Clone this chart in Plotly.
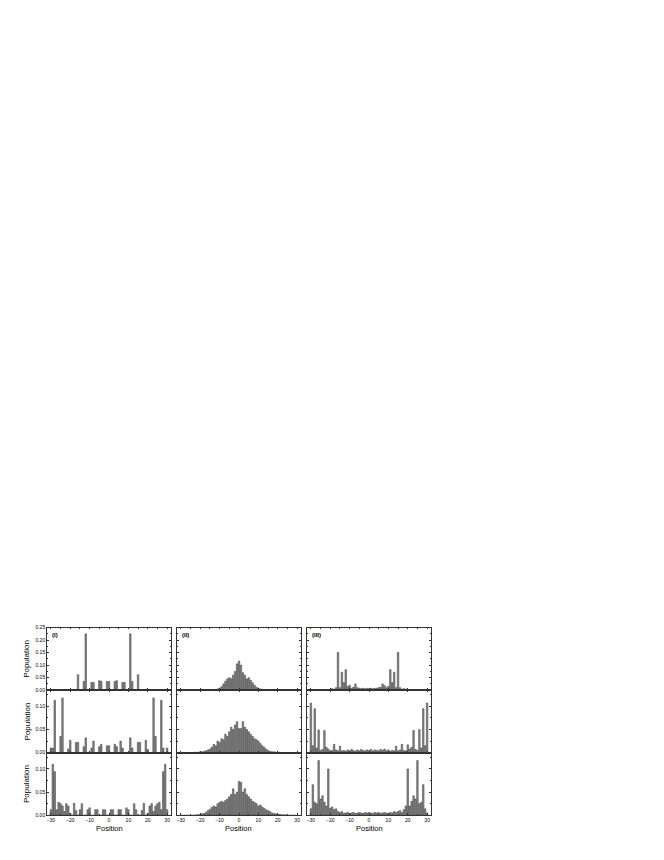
import plotly.graph_objects as go

# ---------------- data ----------------
positions = list(range(-30, 31))
x_tick_vals = [-30, -20, -10, 0, 10, 20, 30]
y_ticks_top = [0.00, 0.05, 0.10, 0.15, 0.20, 0.25]
y_ticks_low = [0.00, 0.05, 0.10]
panel_labels = ["(I)", "(II)", "(III)"]
y_title = "Population"
x_title = "Position"

# Column (I)
pop_I_top = [0, 0, 0, 0, 0, 0, 0, 0, 0, 0,
             0.002, 0, 0, 0, 0.062, 0, 0, 0.035, 0.225, 0,
             0, 0.031, 0.031, 0, 0, 0.038, 0.036, 0, 0, 0.035,
             0.035, 0, 0, 0.035, 0.038, 0, 0, 0.031, 0.031, 0,
             0, 0.225, 0.035, 0, 0, 0.062, 0, 0, 0, 0.002,
             0, 0, 0, 0, 0, 0, 0, 0, 0, 0,
             0]
pop_I_mid = [0.010, 0.010, 0.113, 0, 0, 0.035, 0.118, 0, 0, 0.008,
             0.027, 0, 0, 0.022, 0.022, 0, 0, 0.013, 0.032, 0,
             0, 0.010, 0.025, 0, 0, 0.013, 0.018, 0, 0, 0.015,
             0.015, 0, 0, 0.018, 0.013, 0, 0.025, 0.010, 0, 0,
             0, 0.032, 0.010, 0, 0, 0.022, 0.022, 0, 0, 0.027,
             0.007, 0, 0, 0.118, 0.035, 0, 0, 0.113, 0.010, 0,
             0.010]
pop_I_bot = [0.012, 0.110, 0.094, 0.012, 0.028, 0.025, 0.020, 0.008, 0.025, 0.020,
             0.004, 0, 0.026, 0.010, 0, 0.012, 0.025, 0, 0, 0.012,
             0.016, 0, 0, 0.012, 0.012, 0, 0, 0.012, 0.012, 0,
             0, 0.012, 0.012, 0, 0, 0.012, 0.012, 0, 0, 0.016,
             0.012, 0, 0, 0.025, 0.012, 0, 0, 0.010, 0.026, 0,
             0.004, 0.020, 0.025, 0.008, 0.020, 0.025, 0.028, 0.012, 0.094, 0.110,
             0.012]

# Column (II)
pop_II_top = [0, 0, 0, 0, 0, 0, 0, 0, 0, 0,
              0, 0, 0, 0, 0, 0.001, 0.001, 0.002, 0.003, 0.005,
              0.008, 0.014, 0.025, 0.036, 0.045, 0.050, 0.046, 0.060, 0.075, 0.105,
              0.116, 0.100, 0.070, 0.060, 0.045, 0.050, 0.040, 0.030, 0.020, 0.012,
              0.008, 0.005, 0.003, 0.002, 0.001, 0.001, 0, 0, 0, 0,
              0, 0, 0, 0, 0, 0, 0, 0, 0, 0,
              0]
pop_II_mid = [0, 0, 0, 0, 0, 0, 0, 0.001, 0.001, 0.001,
              0.002, 0.002, 0.003, 0.004, 0.006, 0.008, 0.012, 0.018, 0.015, 0.025,
              0.022, 0.030, 0.028, 0.040, 0.035, 0.045, 0.055, 0.050, 0.060, 0.067,
              0.052, 0.052, 0.067, 0.055, 0.050, 0.045, 0.040, 0.035, 0.030, 0.028,
              0.025, 0.020, 0.015, 0.012, 0.008, 0.005, 0.003, 0.002, 0.002, 0.001,
              0.001, 0.001, 0, 0, 0, 0, 0, 0, 0, 0,
              0]
pop_II_bot = [0, 0, 0, 0, 0, 0, 0, 0, 0.001, 0.001,
              0.002, 0.003, 0.004, 0.006, 0.010, 0.013, 0.017, 0.020, 0.018, 0.025,
              0.028, 0.030, 0.028, 0.032, 0.035, 0.040, 0.045, 0.057, 0.045, 0.050,
              0.073, 0.071, 0.050, 0.057, 0.045, 0.040, 0.035, 0.030, 0.028, 0.025,
              0.020, 0.022, 0.018, 0.015, 0.012, 0.010, 0.008, 0.005, 0.004, 0.003,
              0.002, 0.002, 0.001, 0.001, 0.001, 0, 0, 0, 0, 0,
              0]

# Column (III)
pop_III_top = [0, 0, 0, 0, 0, 0, 0, 0, 0, 0,
               0.004, 0.006, 0.004, 0.010, 0.151, 0.010, 0.072, 0.030, 0.082, 0.015,
               0.020, 0.008, 0.012, 0.025, 0.010, 0.008, 0.006, 0.008, 0.006, 0.007,
               0.006, 0.008, 0.006, 0.007, 0.008, 0.010, 0.012, 0.025, 0.018, 0.010,
               0.015, 0.082, 0.030, 0.072, 0.010, 0.151, 0.010, 0.004, 0.006, 0.004,
               0.003, 0, 0, 0, 0, 0, 0, 0, 0, 0,
               0]
pop_III_mid = [0.107, 0.015, 0.095, 0.010, 0.049, 0.005, 0.007, 0.048, 0.012, 0.008,
               0.004, 0.005, 0.018, 0.006, 0.004, 0.014, 0.004, 0.005, 0.003, 0.006,
               0.004, 0.007, 0.005, 0.003, 0.006, 0.004, 0.007, 0.005, 0.004, 0.006,
               0.005, 0.007, 0.004, 0.006, 0.005, 0.004, 0.007, 0.005, 0.008, 0.004,
               0.006, 0.003, 0.005, 0.004, 0.014, 0.004, 0.006, 0.018, 0.005, 0.004,
               0.017, 0.008, 0.012, 0.048, 0.007, 0.005, 0.050, 0.010, 0.095, 0.015,
               0.107]
pop_III_bot = [0.014, 0.066, 0.028, 0.025, 0.118, 0.035, 0.042, 0.028, 0.020, 0.100,
               0.015, 0.018, 0.012, 0.014, 0.008, 0.006, 0.008, 0.004, 0.005, 0.006,
               0.004, 0.005, 0.006, 0.004, 0.005, 0.006, 0.005, 0.004, 0.006, 0.005,
               0.006, 0.005, 0.004, 0.006, 0.005, 0.006, 0.004, 0.005, 0.006, 0.005,
               0.004, 0.006, 0.005, 0.008, 0.006, 0.008, 0.010, 0.006, 0.012, 0.020,
               0.100, 0.020, 0.030, 0.042, 0.035, 0.118, 0.025, 0.028, 0.066, 0.014,
               0.005]

grid = [[pop_I_top, pop_II_top, pop_III_top],
        [pop_I_mid, pop_II_mid, pop_III_mid],
        [pop_I_bot, pop_II_bot, pop_III_bot]]
y_max = [0.25, 0.135, 0.135]

# ---------------- layout geometry (page pixels) ----------------
PAGE_OFF = 8            # default body margin of the html page
W, H = 664 - 2 * PAGE_OFF, 860 - 2 * PAGE_OFF
col_px = [(47, 171), (177, 301), (307, 431)]
row_px = [(629, 692), (692, 755), (755, 818)]

def fx(px):
    return (px - PAGE_OFF) / W

def fy(py):
    return 1 - (py - PAGE_OFF) / H

FONT = "Liberation Sans, Arial, sans-serif"
AX = "#333333"
fig = go.Figure()
layout = {}
for r in range(3):
    for c in range(3):
        k = r * 3 + c + 1
        xname = "x" if k == 1 else f"x{k}"
        yname = "y" if k == 1 else f"y{k}"
        fig.add_trace(go.Bar(
            x=positions, y=grid[r][c], xaxis=xname, yaxis=yname,
            width=0.8,
            marker=dict(color="#8a8a8a", line=dict(color="#2a2a2a", width=0.45)),
            showlegend=False, hoverinfo="x+y"))
        x0, x1 = col_px[c]
        y0, y1 = row_px[r]
        layout["xaxis" if k == 1 else f"xaxis{k}"] = dict(
            domain=[fx(x0), fx(x1)], anchor=yname, range=[-32, 32],
            tickvals=x_tick_vals, showticklabels=(r == 2),
            ticks="inside", ticklen=2, tickwidth=0.5, tickcolor=AX,
            minor=dict(ticks="inside", ticklen=1.2, dtick=5, tickcolor=AX, tickwidth=0.4),
            showline=True, linecolor=AX, linewidth=0.6, mirror="ticks",
            showgrid=False, zeroline=False,
            tickfont=dict(family=FONT, size=5, color="black"))
        yt = y_ticks_top if r == 0 else y_ticks_low
        layout["yaxis" if k == 1 else f"yaxis{k}"] = dict(
            domain=[fy(y1), fy(y0)], anchor=xname, range=[0, y_max[r]],
            tickvals=yt, tickformat=".2f", showticklabels=(c == 0),
            ticks="inside", ticklen=2, tickwidth=0.5, tickcolor=AX,
            minor=dict(ticks="inside", ticklen=1.2, dtick=0.025, tickcolor=AX, tickwidth=0.4),
            showline=True, linecolor=AX, linewidth=0.6, mirror="ticks",
            showgrid=False, zeroline=False,
            tickfont=dict(family=FONT, size=5, color="black"))

annotations = []
for r in range(3):
    y0, y1 = row_px[r]
    annotations.append(dict(
        text=y_title, x=fx(27), y=fy((y0 + y1) / 2), xref="paper", yref="paper",
        textangle=-90, showarrow=False, xanchor="center", yanchor="middle",
        font=dict(family=FONT, size=8, color="black")))
for c in range(3):
    x0, x1 = col_px[c]
    annotations.append(dict(
        text=x_title, x=fx((x0 + x1) / 2), y=fy(831), xref="paper", yref="paper",
        showarrow=False, xanchor="center", yanchor="middle",
        font=dict(family=FONT, size=7.5, color="black")))
    annotations.append(dict(
        text=f"<b>{panel_labels[c]}</b>", x=fx(x0 + 3), y=fy(636), xref="paper", yref="paper",
        showarrow=False, xanchor="left", yanchor="middle",
        font=dict(family=FONT, size=6, color="black")))

fig.update_layout(
    width=W, height=H, margin=dict(l=0, r=0, t=0, b=0),
    paper_bgcolor="white", plot_bgcolor="white",
    bargap=0.2, annotations=annotations, **layout)

fig.write_html("out.html")
